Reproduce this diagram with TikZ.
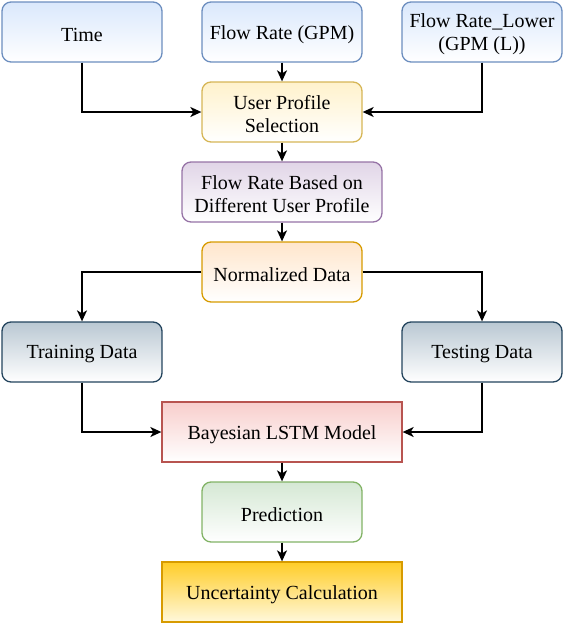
\documentclass[tikz,border=0pt]{standalone}
\usepackage{fontspec}
\setmainfont{Liberation Serif}
\usetikzlibrary{arrows.meta}
\definecolor{bluef}{HTML}{DAE8FC}\definecolor{blues}{HTML}{6C8EBF}
\definecolor{yelf}{HTML}{FFF2CC}\definecolor{yels}{HTML}{D6B656}
\definecolor{purf}{HTML}{E1D5E7}\definecolor{purs}{HTML}{9673A6}
\definecolor{oraf}{HTML}{FFE6CC}\definecolor{oras}{HTML}{D79B00}
\definecolor{grayf}{HTML}{BAC8D3}\definecolor{grays}{HTML}{23445D}
\definecolor{redf}{HTML}{F8CECC}\definecolor{reds}{HTML}{B85450}
\definecolor{grnf}{HTML}{D5E8D4}\definecolor{grns}{HTML}{82B366}
\definecolor{goldf}{HTML}{FFCD28}\definecolor{goldb}{HTML}{FFF8DC}
\tikzset{
  box/.style={draw, line width=1.3pt, minimum width=160pt, minimum height=60pt,
    inner sep=0pt},
  rbox/.style={box, rounded corners=9pt},
  txt/.style={inner sep=0pt, align=center, yshift=-2.5pt, font=\fontsize{20}{23}\selectfont},
  grad/.style 2 args={draw=#2, top color=#1, bottom color=white},
  conn/.style={line width=1.5pt, -{Stealth[length=11pt,width=10pt,inset=3pt]}}
}
\begin{document}
\begin{tikzpicture}[x=1pt,y=-1pt]
\useasboundingbox (0,0) rectangle (564,624);
\node[rbox, grad={bluef}{blues}] (time) at (82,32) {};
\node[rbox, grad={bluef}{blues}] (flow) at (282,32) {};
\node[rbox, grad={bluef}{blues}] (lower) at (482,32) {};
\node[rbox, grad={yelf}{yels}] (user) at (282,112) {};
\node[rbox, grad={purf}{purs}, minimum width=200pt] (based) at (282,192) {};
\node[rbox, grad={oraf}{oras}] (norm) at (282,272) {};
\node[rbox, grad={grayf}{grays}] (train) at (82,352) {};
\node[rbox, grad={grayf}{grays}] (test) at (482,352) {};
\node[box, grad={redf}{reds}, minimum width=240pt] (bayes) at (282,432) {};
\node[rbox, grad={grnf}{grns}] (pred) at (282,512) {};
\node[box, draw=oras, top color=goldf, bottom color=goldb, minimum width=240pt] (unc) at (282,592) {};
\node[txt] (time-t) at (time) {Time};
\node[txt] (flow-t) at (flow) {Flow Rate (GPM)};
\node[txt] (lower-t) at (lower) {Flow Rate\_Lower\\(GPM (L))};
\node[txt] (user-t) at (user) {User Profile\\Selection};
\node[txt] (based-t) at (based) {Flow Rate Based on\\Different User Profile};
\node[txt] (norm-t) at (norm) {Normalized Data};
\node[txt] (train-t) at (train) {Training Data};
\node[txt] (test-t) at (test) {Testing Data};
\node[txt] (bayes-t) at (bayes) {Bayesian LSTM Model};
\node[txt] (pred-t) at (pred) {Prediction};
\node[txt] (unc-t) at (unc) {Uncertainty Calculation};
\draw[conn] (time.south) |- (user.west);
\draw[conn] (flow) -- (user);
\draw[conn] (lower.south) |- (user.east);
\draw[conn] (user) -- (based);
\draw[conn] (based) -- (norm);
\draw[conn] (norm.west) -| (train.north);
\draw[conn] (norm.east) -| (test.north);
\draw[conn] (train.south) |- (bayes.west);
\draw[conn] (test.south) |- (bayes.east);
\draw[conn] (bayes) -- (pred);
\draw[conn] (pred) -- (unc);
\end{tikzpicture}
\end{document}
